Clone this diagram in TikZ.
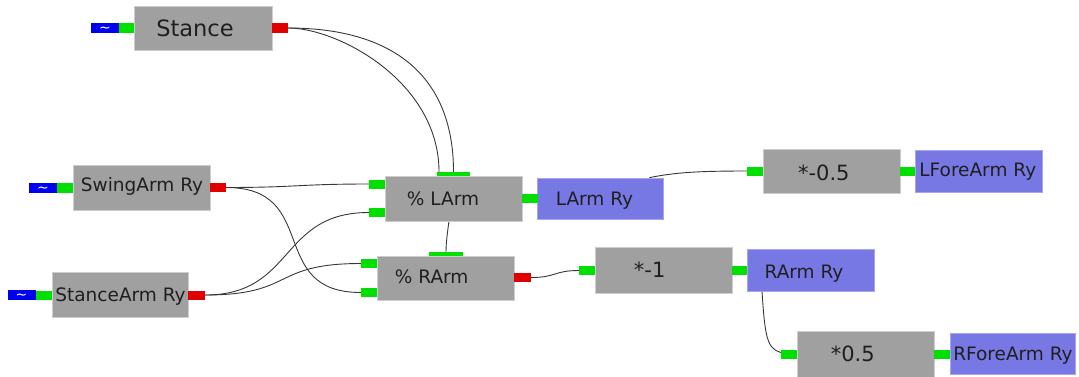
\documentclass[tikz,border=0pt]{standalone}
\usepackage{fontspec}
\setmainfont{DejaVu Sans}
\usetikzlibrary{calc,backgrounds}
\definecolor{boxgray}{RGB}{160,160,160}
\definecolor{boxedge}{RGB}{205,205,205}
\definecolor{purp}{RGB}{120,120,228}
\definecolor{purpedge}{RGB}{165,165,240}
\definecolor{pgreen}{RGB}{0,224,0}
\definecolor{pred}{RGB}{224,0,0}
\definecolor{pblue}{RGB}{0,0,240}
\definecolor{wirec}{RGB}{55,55,55}
\begin{document}
\begin{tikzpicture}[x=1pt,y=-1pt,
  blk/.style 2 args={rectangle, draw=boxedge, fill=boxgray, line width=0.8pt, inner sep=0pt, minimum width=#1, minimum height=#2},
  pblk/.style 2 args={rectangle, draw=purpedge, fill=purp, line width=0.8pt, inner sep=0pt, minimum width=#1, minimum height=#2},
  prt/.style n args={3}{rectangle, fill=#1, inner sep=0pt, minimum width=#2, minimum height=#3},
  srcprt/.style={prt={pblue}{28}{10}, text=white, font=\fontsize{14}{10}\selectfont},
  lbl/.style={font=\fontsize{18.5}{20}\selectfont, text=black!88, anchor=base, inner sep=0pt},
  numlbl/.style={lbl, font=\fontsize{21}{22}\selectfont},
  wire/.style={draw=wirec, line width=0.9pt}]
\useasboundingbox (0,0) rectangle (1079,376);
% blocks
\node[blk={138}{44}] (stance) at (203,28) {};
\node[blk={137}{45}] (swing) at (141.5,187.5) {};
\node[blk={136}{45}] (stancearm) at (120,294.5) {};
\node[blk={137}{45}] (larm) at (453.5,198.5) {};
\node[pblk={126}{41}] (larmry) at (600,198.5) {};
\node[blk={137}{44}] (rarm) at (445.5,278) {};
\node[blk={137}{46}] (m1) at (663.5,270) {};
\node[pblk={127}{42}] (rarmry) at (810.5,270) {};
\node[blk={137}{44}] (m05n) at (831.5,171) {};
\node[pblk={127}{42}] (lforery) at (978.5,171) {};
\node[blk={137}{47}] (p05) at (865.5,354.5) {};
\node[pblk={125}{41}] (rforery) at (1012.5,353.5) {};
% ports
\node[srcprt] (stB) at (105,28) {\raisebox{-4pt}[0pt][0pt]{\textasciitilde}};
\node[prt={pgreen}{15}{10}] (stI) at (126.5,28) {};
\node[prt={pred}{16}{10}] (stO) at (280,28) {};
\node[srcprt] (swB) at (43,188) {\raisebox{-4pt}[0pt][0pt]{\textasciitilde}};
\node[prt={pgreen}{16}{10}] (swI) at (65,188) {};
\node[prt={pred}{16}{9}] (swO) at (218,187.5) {};
\node[srcprt] (saB) at (21.5,295) {\raisebox{-4pt}[0pt][0pt]{\textasciitilde}};
\node[prt={pgreen}{16}{9}] (saI) at (44,295) {};
\node[prt={pred}{17}{9}] (saO) at (196.5,295) {};
\node[prt={pgreen}{33}{4}] (laT) at (453.5,174) {};
\node[prt={pgreen}{16}{9}] (laL1) at (377,184) {};
\node[prt={pgreen}{16}{9}] (laL2) at (377,212.5) {};
\node[prt={pgreen}{16}{9}] (laO) at (530,198.5) {};
\node[prt={pgreen}{34}{4}] (raT) at (446,254) {};
\node[prt={pgreen}{16}{9}] (raL1) at (369,263.5) {};
\node[prt={pgreen}{16}{9}] (raL2) at (369,292.5) {};
\node[prt={pred}{17}{9}] (raO) at (522.5,277.5) {};
\node[prt={pgreen}{16}{9}] (m1L) at (587,270.5) {};
\node[prt={pgreen}{15}{9}] (m1O) at (739.5,270.5) {};
\node[prt={pgreen}{16}{9}] (m05L) at (755,171) {};
\node[prt={pgreen}{15}{9}] (m05O) at (907.5,171) {};
\node[prt={pgreen}{16}{9}] (p05L) at (789,354.5) {};
\node[prt={pgreen}{16}{9}] (p05O) at (942,354.5) {};
% labels
\node[lbl, font=\fontsize{22.5}{24}\selectfont] (tStance) at (195,36.7) {Stance};
\node[lbl] (tSwing) at (142,191.7) {SwingArm Ry};
\node[lbl] (tStanceArm) at (120.5,301.7) {StanceArm Ry};
\node[lbl] (tLArm) at (443,205) {\% LArm};
\node[lbl] (tRArm) at (431.7,283.3) {\% RArm};
\node[lbl] (tLArmRy) at (594.5,205) {LArm Ry};
\node[numlbl] (tM05) at (823.8,180) {*-0.5};
\node[lbl] (tLFore) at (977.8,176) {LForeArm Ry};
\node[numlbl] (tM1) at (649.7,277.7) {*-1};
\node[lbl] (tRArmRy) at (804,278.3) {RArm Ry};
\node[numlbl] (tP05) at (852.8,361.7) {*0.5};
\node[lbl] (tRFore) at (1013,360) {RForeArm Ry};
% wires
\begin{scope}[on background layer]
\draw[wire] (stO.east) .. controls +(50,0) and +(0,-90) .. ([xshift=-14.5pt]laT.north);
\draw[wire] (stO.east) .. controls +(100,0) and +(0,-100) .. (laT.north) .. controls +(0,30) and +(0,-20) .. (raT.north);
\draw[wire] (swO.east) .. controls +(70,0) and +(-70,0) .. (laL1.west);
\draw[wire] (swO.east) .. controls +(95,0) and +(-95,0) .. (raL2.west);
\draw[wire] (saO.east) .. controls +(90,0) and +(-90,0) .. (laL2.west);
\draw[wire] (saO.east) .. controls +(90,0) and +(-90,0) .. (raL1.west);
\draw[wire] (raO.east) .. controls +(25,0) and +(-25,0) .. (m1L.west);
\draw[wire] ([xshift=-14pt]larmry.north east) .. controls +(25,-5) and +(-50,0) .. (m05L.west);
\draw[wire] ([xshift=-48.5pt]rarmry.south) .. controls +(3,45) and +(-14,-4) .. ([yshift=2pt]p05L.west);
\end{scope}
\end{tikzpicture}
\end{document}
